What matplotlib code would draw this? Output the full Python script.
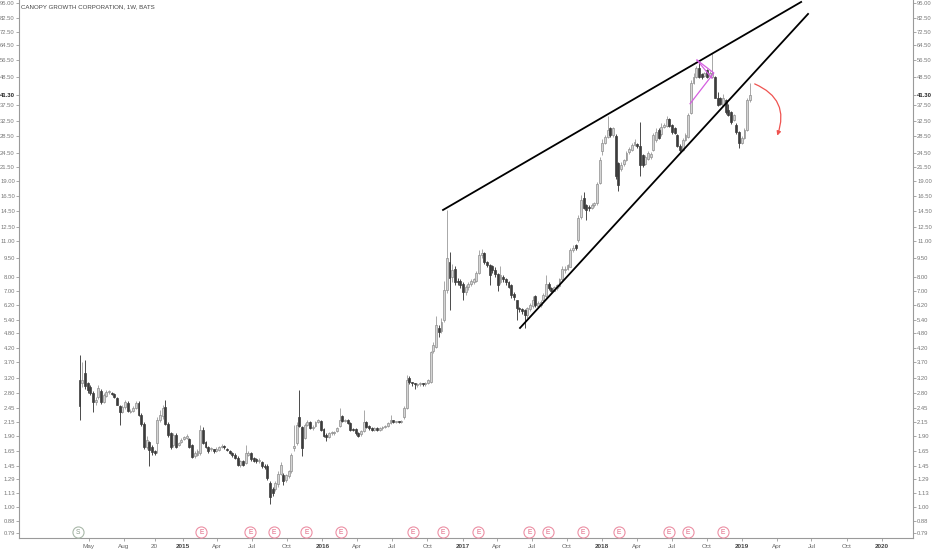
import matplotlib
matplotlib.use("Agg")
import matplotlib.pyplot as plt
import matplotlib.dates as mdates
from matplotlib.patches import FancyArrowPatch
import numpy as np
import pandas as pd

plt.rcParams['font.family'] = ['Liberation Sans', 'DejaVu Sans']

TITLE = "CANOPY GROWTH CORPORATION, 1W, BATS"
START = "2014-04-07"

# weekly candles (open, high, low, close)
opens = [3.15, 3.05, 3.35, 3.05, 2.95, 2.80, 2.57, 2.70, 2.85, 2.58, 2.72, 2.82,
         2.80, 2.77, 2.68, 2.48, 2.36, 2.46, 2.55, 2.36, 2.38, 2.45, 2.55, 2.30,
         2.12, 1.72, 1.80, 1.72, 1.65, 1.78, 2.19, 2.27, 2.47, 2.12, 1.94, 1.75,
         1.92, 1.75, 1.80, 1.85, 1.86, 1.85, 1.75, 1.58, 1.60, 1.63, 2.00, 1.80,
         1.72, 1.68, 1.68, 1.66, 1.67, 1.72, 1.73, 1.69, 1.66, 1.63, 1.60, 1.56,
         1.46, 1.51, 1.49, 1.60, 1.62, 1.56, 1.54, 1.51, 1.50, 1.45, 1.45, 1.24,
         1.18, 1.18, 1.23, 1.35, 1.33, 1.27, 1.32,
         1.38, 1.70, 1.78, 2.25, 2.05, 1.87, 2.10, 2.15, 2.04, 2.08, 2.15, 2.17,
         2.02, 1.92, 1.88, 1.94, 1.94, 1.99, 2.08, 2.27, 2.17, 2.19, 2.14, 2.02,
         2.02, 1.94, 1.93, 1.99, 2.15, 2.08, 2.04, 2.00, 2.03, 2.01, 2.03, 2.05,
         2.08, 2.13, 2.19, 2.15, 2.16, 2.15, 2.25, 2.45, 3.20, 3.08, 3.05, 3.00,
         3.03, 3.05, 3.02, 3.05,
         3.08, 4.10, 4.25, 5.05, 4.90, 5.40, 7.10, 9.10, 8.00, 8.60, 7.70, 7.70,
         7.50, 6.95, 7.25, 7.45, 7.60, 7.70, 8.30, 9.70, 9.90, 9.10, 8.90, 8.80,
         8.50, 8.20, 7.60, 8.00, 7.80, 7.60, 7.40, 6.85, 6.45, 6.05, 5.95, 5.90,
         5.65, 5.95, 6.15, 6.70, 6.15, 6.20, 6.50, 6.70, 7.50, 7.20, 7.05, 7.20,
         7.35, 7.80, 8.50, 8.60, 8.75, 10.2,
         10.6, 11.1, 13.7, 16.2, 15.2, 15.0, 14.9, 15.2, 15.5, 18.7, 24.8, 26.8,
         28.2, 30.6, 28.7, 28.5, 22.3, 21.2, 22.1, 23.0, 24.7, 25.1, 26.3, 26.6,
         25.9, 24.0, 22.2, 23.2, 23.5, 25.1, 27.5, 30.0, 29.0, 30.8, 31.2, 33.2,
         31.3, 30.5, 28.7, 26.1, 25.1, 27.5, 28.2, 35.1, 46.0, 48.5, 52.5, 50.0,
         49.0, 51.6, 49.0, 48.5, 48.5, 40.3, 40.0, 37.7, 39.4, 36.0, 35.2, 32.9,
         31.5, 29.4, 26.8, 28.0, 30.1, 39.4]
highs = [3.95, 3.70, 3.75, 3.10, 3.00, 2.85, 2.70, 3.00, 2.90, 2.80, 2.88, 2.87,
         2.82, 2.79, 2.70, 2.50, 2.50, 2.62, 2.60, 2.41, 2.48, 2.60, 2.60, 2.33,
         2.15, 1.90, 1.82, 1.75, 1.67, 2.25, 2.40, 2.50, 2.62, 2.15, 1.96, 1.95,
         1.95, 1.80, 1.86, 1.90, 1.93, 1.87, 1.77, 1.66, 1.68, 2.10, 2.05, 1.82,
         1.74, 1.72, 1.69, 1.71, 1.74, 1.76, 1.75, 1.70, 1.67, 1.64, 1.62, 1.58,
         1.53, 1.53, 1.75, 1.66, 1.64, 1.57, 1.56, 1.55, 1.52, 1.47, 1.47, 1.26,
         1.20, 1.26, 1.38, 1.50, 1.36, 1.35, 1.40,
         1.62, 2.10, 2.16, 2.87, 2.08, 2.14, 2.20, 2.18, 2.09, 2.18, 2.22, 2.20,
         2.04, 1.94, 1.96, 1.98, 1.99, 2.06, 2.45, 2.30, 2.22, 2.21, 2.16, 2.04,
         2.04, 1.96, 2.01, 2.40, 2.18, 2.10, 2.06, 2.05, 2.05, 2.05, 2.07, 2.10,
         2.15, 2.30, 2.20, 2.18, 2.18, 2.19, 2.48, 3.30, 3.25, 3.10, 3.07, 3.06,
         3.08, 3.07, 3.08, 3.18,
         4.10, 4.45, 5.60, 5.15, 5.50, 7.70, 14.6, 10.0, 9.00, 8.80, 7.90, 7.80,
         7.60, 7.40, 7.60, 7.80, 7.90, 8.40, 10.2, 10.3, 10.0, 9.20, 9.00, 8.90,
         8.70, 8.30, 8.80, 8.10, 7.90, 7.70, 7.50, 6.95, 6.50, 6.10, 6.00, 5.95,
         6.10, 6.30, 6.70, 6.80, 6.40, 6.45, 6.90, 8.10, 7.60, 7.30, 7.35, 7.50,
         7.90, 8.80, 8.80, 9.00, 10.4, 10.6,
         10.7, 13.9, 16.7, 17.2, 15.4, 15.2, 15.5, 15.7, 18.8, 23.5, 27.7, 28.8,
         34.0, 31.0, 31.0, 29.0, 22.5, 22.5, 23.2, 24.8, 25.8, 26.7, 27.8, 26.8,
         32.4, 24.3, 23.9, 24.9, 24.6, 29.3, 30.5, 30.5, 32.0, 32.0, 34.0, 33.6,
         31.6, 30.8, 29.1, 26.4, 28.0, 29.3, 35.0, 47.0, 50.5, 53.5, 56.0, 50.5,
         50.8, 52.0, 51.0, 60.0, 49.0, 42.5, 40.5, 41.5, 39.8, 38.0, 35.6, 34.8,
         32.0, 29.7, 28.5, 30.6, 40.0, 46.0]
lows = [2.20, 2.95, 2.90, 2.80, 2.75, 2.35, 2.50, 2.65, 2.53, 2.55, 2.70, 2.78,
        2.74, 2.67, 2.50, 2.10, 2.33, 2.43, 2.35, 2.33, 2.35, 2.42, 2.28, 2.08,
        1.68, 1.68, 1.45, 1.60, 1.60, 1.62, 2.15, 2.22, 2.10, 1.88, 1.68, 1.72,
        1.70, 1.73, 1.78, 1.83, 1.84, 1.70, 1.55, 1.56, 1.58, 1.60, 1.76, 1.70,
        1.63, 1.66, 1.63, 1.64, 1.65, 1.70, 1.68, 1.65, 1.61, 1.57, 1.54, 1.44,
        1.43, 1.44, 1.47, 1.58, 1.52, 1.50, 1.49, 1.49, 1.42, 1.41, 1.28, 1.03,
        1.10, 1.15, 1.20, 1.33, 1.22, 1.25, 1.30,
        1.36, 1.66, 1.75, 2.05, 1.58, 1.84, 2.07, 2.02, 2.01, 2.05, 2.13, 1.98,
        1.88, 1.82, 1.86, 1.92, 1.92, 1.97, 2.06, 2.15, 2.15, 2.12, 1.98, 1.98,
        1.92, 1.88, 1.90, 1.97, 2.04, 2.01, 1.98, 1.98, 1.99, 1.99, 2.01, 2.03,
        2.06, 2.11, 2.13, 2.13, 2.13, 2.13, 2.22, 2.42, 3.02, 2.98, 2.90, 2.95,
        2.98, 2.98, 2.98, 3.02,
        3.05, 4.00, 4.20, 4.65, 4.80, 5.30, 6.90, 5.90, 7.60, 7.40, 7.40, 7.20,
        6.50, 6.80, 7.10, 7.35, 7.50, 7.60, 8.20, 9.50, 9.00, 8.70, 7.40, 8.30,
        8.00, 7.00, 7.50, 7.60, 7.40, 7.20, 6.60, 6.50, 5.40, 5.80, 5.70, 5.05,
        5.50, 5.85, 6.05, 6.10, 6.05, 6.10, 6.40, 6.60, 7.10, 6.95, 7.00, 7.10,
        7.30, 7.70, 8.30, 8.50, 8.70, 10.0,
        10.2, 10.9, 13.5, 14.7, 13.3, 14.4, 14.7, 15.0, 15.3, 18.5, 24.0, 26.5,
        28.0, 28.3, 28.3, 19.3, 17.4, 20.8, 21.8, 22.8, 24.3, 24.8, 26.0, 25.5,
        19.9, 21.5, 21.9, 22.9, 23.1, 24.8, 27.0, 27.6, 28.5, 30.5, 30.8, 30.8,
        29.0, 29.0, 25.8, 24.4, 24.8, 27.2, 28.0, 34.8, 45.5, 48.0, 48.0, 47.8,
        48.6, 48.0, 48.6, 48.0, 40.0, 37.3, 37.5, 37.3, 34.8, 34.0, 31.8, 32.5,
        29.0, 25.6, 26.4, 27.7, 29.8, 38.8]
closes = [2.48, 3.15, 2.98, 2.87, 2.80, 2.57, 2.63, 2.92, 2.57, 2.75, 2.82, 2.84,
          2.77, 2.70, 2.52, 2.36, 2.46, 2.58, 2.38, 2.38, 2.45, 2.55, 2.30, 2.12,
          1.72, 1.83, 1.67, 1.64, 1.62, 2.19, 2.29, 2.45, 2.12, 1.91, 1.72, 1.91,
          1.72, 1.78, 1.83, 1.88, 1.89, 1.72, 1.57, 1.63, 1.65, 2.00, 1.78, 1.72,
          1.65, 1.70, 1.66, 1.69, 1.72, 1.74, 1.71, 1.67, 1.63, 1.60, 1.56, 1.46,
          1.51, 1.46, 1.63, 1.63, 1.54, 1.52, 1.51, 1.53, 1.44, 1.43, 1.30, 1.09,
          1.13, 1.24, 1.35, 1.46, 1.26, 1.33, 1.38,
          1.60, 1.73, 2.10, 2.08, 1.70, 2.10, 2.15, 2.04, 2.06, 2.15, 2.19, 2.00,
          1.90, 1.88, 1.94, 1.96, 1.97, 2.04, 2.19, 2.17, 2.19, 2.14, 2.00, 2.00,
          1.94, 1.90, 1.99, 2.15, 2.06, 2.03, 2.00, 2.03, 2.01, 2.03, 2.05, 2.08,
          2.13, 2.19, 2.15, 2.16, 2.15, 2.17, 2.45, 3.15, 3.08, 3.05, 3.02, 3.03,
          3.05, 3.02, 3.06, 3.15,
          4.05, 4.30, 5.17, 4.85, 5.30, 7.10, 9.50, 7.90, 8.50, 7.60, 7.60, 7.40,
          6.95, 7.25, 7.45, 7.70, 7.80, 8.30, 9.70, 9.90, 9.10, 8.90, 8.10, 8.50,
          8.20, 7.40, 8.10, 7.80, 7.60, 7.30, 6.80, 6.65, 6.00, 5.95, 5.85, 5.65,
          6.00, 6.20, 6.50, 6.20, 6.30, 6.35, 6.80, 7.50, 7.20, 7.05, 7.25, 7.40,
          7.80, 8.60, 8.60, 8.85, 10.2, 10.4,
          10.4, 13.6, 16.0, 14.9, 14.6, 14.8, 15.3, 15.5, 18.5, 22.9, 26.8, 28.2,
          30.1, 28.7, 30.5, 19.8, 18.3, 22.0, 22.9, 24.4, 25.4, 26.3, 27.0, 25.9,
          21.9, 21.9, 23.5, 24.5, 24.2, 28.7, 29.5, 28.0, 31.0, 31.5, 33.3, 31.2,
          29.5, 29.3, 26.1, 25.1, 27.5, 28.8, 34.4, 46.0, 48.5, 52.5, 48.5, 48.5,
          50.2, 48.5, 50.5, 50.5, 40.3, 37.7, 38.0, 40.3, 35.2, 34.4, 32.2, 34.4,
          29.4, 26.8, 28.0, 30.1, 39.4, 41.3]

price_ticks = [95.00, 82.50, 72.50, 64.50, 56.50, 48.50, 37.50, 32.50, 28.50, 24.50,
               21.50, 19.00, 16.50, 14.50, 12.50, 11.00, 9.50, 8.00, 7.00, 6.20,
               5.40, 4.80, 4.20, 3.70, 3.20, 2.80, 2.45, 2.15, 1.90, 1.65, 1.45,
               1.29, 1.13, 1.00, 0.88, 0.79]
last_price = 41.30

date_ticks = ["2014-05-01", "2014-08-01", "2014-10-20", "2015-01-01", "2015-04-01",
              "2015-07-01", "2015-10-01", "2016-01-01", "2016-04-01", "2016-07-01",
              "2016-10-01", "2017-01-01", "2017-04-01", "2017-07-01", "2017-10-01",
              "2018-01-01", "2018-04-01", "2018-07-01", "2018-10-01", "2019-01-01",
              "2019-04-01", "2019-07-01", "2019-10-01", "2020-01-01"]
date_labels = ["May", "Aug", "20", "2015", "Apr", "Jul", "Oct", "2016", "Apr", "Jul",
               "Oct", "2017", "Apr", "Jul", "Oct", "2018", "Apr", "Jul", "Oct", "2019",
               "Apr", "Jul", "Oct", "2020"]

split_dates = ["2014-04-03"]
earnings_dates = ["2015-02-19", "2015-06-27", "2015-08-28", "2015-11-20", "2016-02-19",
                  "2016-08-25", "2016-11-11", "2017-02-11", "2017-06-24", "2017-08-12",
                  "2017-11-11", "2018-02-13", "2018-06-24", "2018-08-13", "2018-11-12"]

# drawings
upper_line = (["2016-11-11", "2019-06-04"], [14.6, 95.5])
lower_line = (["2017-05-31", "2019-06-22"], [5.03, 85.7])
pattern_dates = ["2018-09-05", "2018-10-19", "2018-08-18"]
pattern_prices = [56.5, 50.3, 38.1]
pattern_extra = (["2018-09-05", "2018-10-14"], [56.5, 48.0])
arrow_start = ("2019-01-27", 46.0)
arrow_end = ("2019-03-31", 27.9)

dates = pd.date_range(START, periods=len(closes), freq="W-MON")
o = np.array(opens)
h = np.array(highs)
l = np.array(lows)
c = np.array(closes)
up = c >= o

fig = plt.figure(figsize=(9.32, 5.5), dpi=100)
ax = fig.add_axes([19 / 932, 12 / 550, 894 / 932, 538 / 550])

# wicks
ax.vlines(dates[up], l[up], h[up], colors="#a8a8a8", linewidth=0.7, zorder=1)
ax.vlines(dates[~up], l[~up], h[~up], colors="#4a4a4a", linewidth=0.7, zorder=1)

# bodies
bottom = np.minimum(o, c)
height = np.maximum(np.abs(c - o), bottom * 0.006)
ax.bar(dates[up], height[up], bottom=bottom[up], width=5, color="#d4d4d4",
       edgecolor="#8e8e8e", linewidth=0.5, zorder=2)
ax.bar(dates[~up], height[~up], bottom=bottom[~up], width=5, color="#3c3c3c",
       edgecolor="#3c3c3c", linewidth=0.5, zorder=2)

# trend lines
ax.plot(pd.to_datetime(upper_line[0]), upper_line[1], color="black", lw=1.3, zorder=3)
ax.plot(pd.to_datetime(lower_line[0]), lower_line[1], color="black", lw=1.3, zorder=3)
ax.plot(pd.to_datetime(pattern_dates), pattern_prices, color="#d45ee0", lw=0.9, zorder=3)
ax.plot(pd.to_datetime(pattern_extra[0]), pattern_extra[1], color="#d45ee0", lw=0.9, zorder=3)

arr = FancyArrowPatch((mdates.date2num(pd.Timestamp(arrow_start[0])), arrow_start[1]),
                      (mdates.date2num(pd.Timestamp(arrow_end[0])), arrow_end[1]),
                      connectionstyle="arc3,rad=-0.5", arrowstyle="-|>",
                      mutation_scale=6, color="#ef5350", lw=0.9, zorder=4)
ax.add_patch(arr)

# event markers
MARK_Y = 0.795
for d in split_dates:
    ax.plot(pd.Timestamp(d), MARK_Y, "o", ms=8, mfc="white", mec="#a9b8a9", mew=0.8, zorder=5)
    ax.text(pd.Timestamp(d), MARK_Y, "S", fontsize=4.8, color="#8a9a8a",
            ha="center", va="center", zorder=6)
for d in earnings_dates:
    ax.plot(pd.Timestamp(d), MARK_Y, "o", ms=8, mfc="white", mec="#ec8fa4", mew=0.8, zorder=5)
    ax.text(pd.Timestamp(d), MARK_Y, "E", fontsize=4.8, color="#e0607e",
            ha="center", va="center", zorder=6)

# axes
ax.set_yscale("log")
ax.set_ylim(0.755, 97.2)
ax.set_xlim(pd.Timestamp("2013-10-31"), pd.Timestamp("2020-03-22"))

yt = price_ticks + [last_price]
ax.set_yticks(yt)
ax.set_yticklabels(["%.2f" % v for v in yt])
ax.yaxis.set_minor_locator(matplotlib.ticker.NullLocator())
ax.tick_params(axis="y", which="major", left=True, right=True, labelleft=True,
               labelright=True, length=2, width=0.6, color="#9a9a9a",
               labelsize=4.2, labelcolor="#777777", pad=1)
for t in ax.yaxis.get_major_ticks():
    if abs(t.get_loc() - last_price) < 0.01:
        for lab in (t.label1, t.label2):
            lab.set_color("#222222")
            lab.set_fontweight("bold")

ax.set_xticks(pd.to_datetime(date_ticks))
ax.set_xticklabels(date_labels)
ax.tick_params(axis="x", length=2, width=0.6, color="#9a9a9a", labelsize=4.6,
               labelcolor="#666666", pad=2)
for lab in ax.get_xticklabels():
    if lab.get_text().isdigit() and len(lab.get_text()) == 4:
        lab.set_fontweight("bold")
        lab.set_color("#444444")

for s in ["left", "right", "bottom"]:
    ax.spines[s].set_color("#9a9a9a")
    ax.spines[s].set_linewidth(0.8)
ax.spines["top"].set_visible(False)

fig.text(21 / 932, 1 - 7 / 550, TITLE, fontsize=4.4, color="#444444", va="center")

fig.savefig("out.png", dpi=100)
